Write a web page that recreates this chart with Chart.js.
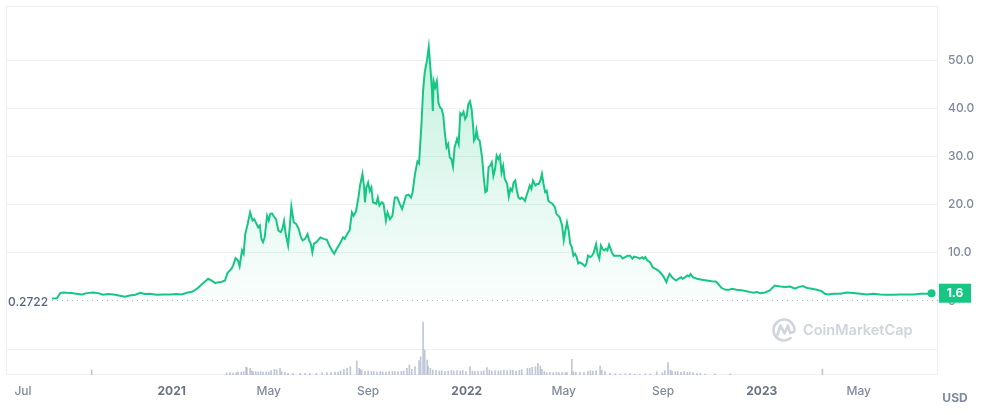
<!DOCTYPE html>
<html>
<head>
<meta charset="utf-8">
<script src="https://cdn.jsdelivr.net/npm/chart.js@4.4.1/dist/chart.umd.min.js"></script>
<style>
  html, body { margin: 0; padding: 0; background: #ffffff; }
  #wrap { position: relative; width: 983px; height: 415px; }
</style>
</head>
<body>
<div id="wrap"><canvas id="c" width="983" height="415"></canvas></div>
<script>
// ---- Data (days since 2020-07-01) ----
const priceDays = [36,42,46,50,54,60,66,73,79,87,93,99,106,114,120,126,132,139,145,151,157,165,174,182,190,196,203,209,215,221,227,229,233,238,242,246,250,253,258,260,263,266,268,271,273,275,278,281,284,286,289,291,293,295,297,299,302,304,306,308,311,313,316,319,321,323,325,328,330,332,335,338,341,344,346,349,352,354,356,358,360,363,368,372,376,379,382,385,388,392,396,398,401,404,407,409,412,415,417,420,422,423,425,427,429,431,433,437,439,441,444,446,449,451,454,457,460,463,466,469,471,474,477,480,482,485,488,490,493,495,497,500,502,504,506,507,508,510,512,514,516,518,520,522,524,526,528,530,532,534,537,539,541,543,545,547,549,551,553,555,557,558,560,561,563,565,568,570,572,574,576,578,580,582,584,586,588,590,592,594,596,599,601,603,605,607,609,611,613,615,617,619,621,623,625,627,629,631,634,636,638,640,642,644,646,648,650,652,655,658,660,664,667,669,671,673,675,677,679,681,683,685,687,689,692,695,697,699,702,704,706,709,711,713,715,717,719,721,723,725,727,729,731,735,739,742,745,748,751,754,756,759,763,766,768,770,772,776,779,782,786,790,793,796,798,800,803,805,808,811,814,816,819,822,824,826,829,834,840,846,852,857,860,864,869,873,877,883,889,895,900,904,908,912,918,924,930,937,943,949,955,959,965,970,976,982,988,992,996,1003,1011,1019,1027,1036,1044,1052,1060,1069,1077,1085,1093,1102,1110,1118,1124];
const prices = [0.5,0.55,1.62,1.76,1.69,1.62,1.49,1.35,1.62,1.76,1.62,1.28,1.42,1.28,1.07,0.87,1.14,1.28,1.69,1.42,1.49,1.28,1.35,1.35,1.42,1.35,1.69,1.9,2.5,3.4,4.3,4.6,4.25,3.7,3.9,4.0,4.25,5.8,6.7,7.4,8.9,8.4,7.2,10.5,9.8,13.9,16.0,18.4,16.7,17.0,16.0,15.3,15.7,12.9,12.2,13.2,17.7,16.7,18.1,18.2,17.4,17.0,14.6,14.3,15.0,16.6,13.9,11.5,15.3,19.6,16.3,16.0,15.0,13.2,12.6,12.9,13.9,12.6,11.9,10.1,11.9,12.2,13.2,12.9,12.7,11.5,10.6,9.8,10.8,11.9,13.2,12.9,13.9,14.6,18.4,17.7,18.6,21.5,24.0,26.4,23.6,20.5,23.6,24.6,22.9,23.6,20.5,20.2,21.5,19.8,20.5,20.2,16.7,18.4,17.0,17.7,21.5,21.5,20.2,19.1,20.2,21.9,22.1,21.5,22.6,26.4,29.0,28.6,36.8,43.7,47.5,50.2,52.8,48.5,43.7,39.5,45.7,44.4,45.7,41.2,40.2,39.9,38.5,34.7,31.9,32.6,29.8,29.5,27.9,31.9,33.7,32.6,39.0,38.6,39.3,37.8,38.5,40.9,41.5,39.9,36.1,33.3,34.0,35.5,33.7,33.3,29.8,25.7,22.6,22.9,27.8,28.1,28.8,26.0,27.4,30.2,29.5,30.2,26.7,28.1,25.4,24.3,21.7,23.3,22.9,24.6,25.0,22.9,21.5,21.2,21.5,21.2,20.8,21.9,22.9,24.0,23.3,25.0,24.0,24.3,24.3,25.0,26.4,24.3,22.6,22.9,20.8,20.5,20.2,19.5,18.1,17.4,15.7,12.6,14.6,16.3,14.6,11.9,11.2,9.4,9.8,9.1,7.8,8.0,7.7,7.2,7.7,9.4,9.1,9.4,10.0,11.8,9.7,8.8,11.5,10.8,10.5,10.8,10.5,11.7,10.8,9.9,9.4,9.4,9.4,8.8,9.1,9.4,9.4,8.8,9.2,9.1,8.8,9.1,8.8,9.1,8.5,8.0,7.0,6.7,6.3,5.6,4.9,3.9,4.9,5.6,4.9,4.6,4.25,4.6,4.9,4.6,4.9,5.3,5.1,5.6,4.9,4.6,4.4,4.25,4.1,4.05,3.56,2.73,2.3,2.3,2.5,2.3,2.2,2.0,1.83,1.7,1.83,1.62,1.76,2.18,3.2,3.0,2.87,3.0,2.53,2.87,3.07,2.66,2.53,2.32,2.03,1.49,1.35,1.49,1.49,1.76,1.62,1.49,1.35,1.49,1.35,1.28,1.28,1.35,1.35,1.35,1.49,1.49,1.6];

const volumeDays = [85,252,256,260,264,266,270,273,276,277,281,283,285,288,291,294,297,301,304,307,311,314,318,320,324,328,334,343,349,355,363,370,376,381,386,390,393,397,401,405,413,416,417,419,423,427,431,434,438,442,445,449,453,457,460,464,468,471,475,478,481,485,490,492,495,497,500,501,504,507,511,515,518,522,526,530,533,537,541,544,548,553,556,559,563,567,570,574,577,580,584,588,591,595,599,603,606,610,614,617,624,627,630,634,637,640,642,645,648,652,656,660,663,667,671,673,679,681,684,689,694,699,702,705,709,714,716,720,726,733,739,745,751,757,763,770,776,784,791,794,798,801,803,807,810,814,818,822,825,829,834,838,844,856,875,989];
const volumes = [250,100,125,100,125,150,150,175,385,365,335,215,165,175,150,175,150,160,150,215,285,250,335,165,135,85,85,85,85,85,85,115,115,135,150,150,200,285,335,415,700,335,285,250,200,200,175,175,150,175,160,150,165,185,175,165,185,200,335,500,285,415,715,915,2650,1250,750,450,335,250,235,200,215,185,200,235,200,215,200,225,175,415,200,185,200,175,215,365,250,200,225,200,215,250,215,250,235,200,225,275,335,335,385,415,585,450,285,165,125,135,115,135,125,135,125,115,785,165,135,135,115,175,215,200,215,450,250,165,85,65,50,50,65,50,50,65,50,165,115,215,615,250,200,165,185,135,165,135,150,115,85,85,50,50,50,300];

const xTickDays = [0,184,304,427,549,669,792,914,1034];
const xTickLabels = ['Jul','2021','May','Sep','2022','May','Sep','2023','May'];
const yTickValues = [0,10,20,30,40,50];
const yTickLabels = ['0','10.0','20.0','30.0','40.0','50.0'];
const minPrice = 0.2722;
const minPriceLabel = '0.2722';
const lastPriceLabel = '1.6';
const currencyLabel = 'USD';
const watermarkText = 'CoinMarketCap';

// ---- Styling ----
const GREEN = '#16c784';
const GRID = '#eff2f5';
const FONT = 'Inter, "Noto Sans", sans-serif';

const extras = {
  id: 'extras',
  beforeDatasetsDraw(chart) {
    const {ctx, chartArea: a} = chart;
    ctx.save();
    // frame
    ctx.strokeStyle = '#eceff3';
    ctx.lineWidth = 1;
    ctx.strokeRect(Math.round(a.left) + 0.5, Math.round(a.top) + 0.5,
                   Math.round(a.right - a.left) - 1, Math.round(a.bottom - a.top) - 1);
    // watermark
    const wx = a.right - 154, wy = a.bottom - 45;
    ctx.strokeStyle = '#cfd4dd';
    ctx.lineWidth = 2.6;
    ctx.lineCap = 'round';
    ctx.lineJoin = 'round';
    ctx.beginPath();
    ctx.arc(wx, wy, 10.5, 0.28 * Math.PI, 1.98 * Math.PI);
    ctx.stroke();
    ctx.beginPath();
    ctx.moveTo(wx - 6.5, wy + 4.5);
    ctx.lineTo(wx - 3.5, wy - 4.5);
    ctx.lineTo(wx + 0.5, wy + 3.5);
    ctx.lineTo(wx + 4, wy - 4.5);
    ctx.lineTo(wx + 6, wy + 3);
    ctx.lineTo(wx + 10.5, wy + 1.5);
    ctx.stroke();
    ctx.fillStyle = '#cfd4dd';
    ctx.font = '600 14.5px ' + FONT;
    ctx.textAlign = 'left';
    ctx.textBaseline = 'middle';
    ctx.fillText(watermarkText, wx + 19, wy + 1);
    ctx.restore();
  },
  afterDatasetsDraw(chart) {
    const {ctx, chartArea: a, scales} = chart;
    const xs = scales.x, ys = scales.y;
    ctx.save();
    // min price dotted line
    const my = Math.round(ys.getPixelForValue(minPrice)) + 0.5;
    const sx = xs.getPixelForValue(priceDays[0]);
    ctx.strokeStyle = '#a7b1c2';
    ctx.lineWidth = 1;
    ctx.setLineDash([1, 4]);
    ctx.beginPath();
    ctx.moveTo(sx, my);
    ctx.lineTo(a.right, my);
    ctx.stroke();
    ctx.setLineDash([]);
    ctx.fillStyle = '#58667e';
    ctx.font = '500 12px ' + FONT;
    ctx.textAlign = 'right';
    ctx.textBaseline = 'middle';
    ctx.fillText(minPriceLabel, sx - 4, my + 1.5);
    // last price badge
    const lastY = ys.getPixelForValue(prices[prices.length - 1]);
    const lastX = xs.getPixelForValue(priceDays[priceDays.length - 1]);
    ctx.fillStyle = GREEN;
    ctx.beginPath();
    ctx.arc(lastX, lastY, 4, 0, Math.PI * 2);
    ctx.fill();
    ctx.fillRect(a.right + 1, lastY - 9.5, 32, 19);
    ctx.fillStyle = '#ffffff';
    ctx.font = '700 12px ' + FONT;
    ctx.textAlign = 'center';
    ctx.fillText(lastPriceLabel, a.right + 17, lastY + 0.5);
    // currency
    ctx.fillStyle = '#808a9d';
    ctx.font = '700 12px ' + FONT;
    ctx.textAlign = 'center';
    ctx.fillText(currencyLabel, a.right + 17, a.bottom + 23);
    ctx.restore();
  }
};

const ctx = document.getElementById('c').getContext('2d');
const grad = ctx.createLinearGradient(0, 40, 0, 301);
grad.addColorStop(0, 'rgba(22,199,132,0.26)');
grad.addColorStop(1, 'rgba(22,199,132,0.02)');

new Chart(ctx, {
  type: 'line',
  data: {
    datasets: [
      {
        type: 'line',
        data: priceDays.map((d, i) => ({x: d, y: prices[i]})),
        yAxisID: 'y',
        borderColor: GREEN,
        borderWidth: 2,
        pointRadius: 0,
        tension: 0,
        fill: {value: minPrice},
        backgroundColor: grad,
        order: 1
      },
      {
        type: 'bar',
        data: volumeDays.map((d, i) => ({x: d, y: volumes[i]})),
        yAxisID: 'y2',
        backgroundColor: 'rgba(170,180,200,0.75)',
        barThickness: 1,
        order: 2
      }
    ]
  },
  options: {
    responsive: false,
    animation: false,
    layout: {padding: {left: 6, top: 6, right: 0, bottom: 0}},
    plugins: {legend: {display: false}, tooltip: {enabled: false}},
    scales: {
      x: {
        type: 'linear',
        offset: false,
        min: -21,
        max: 1132,
        grid: {display: false, drawTicks: false, offset: false},
        border: {display: false},
        afterBuildTicks: s => { s.ticks = xTickDays.map(v => ({value: v})); },
        afterFit: s => { s.height = 40; s.paddingLeft = 0; s.paddingRight = 0; },
        ticks: {
          padding: 9,
          maxRotation: 0,
          autoSkip: false,
          callback: v => { const i = xTickDays.indexOf(v); return i >= 0 ? xTickLabels[i] : ''; },
          color: c => /^\d{4}$/.test(xTickLabels[c.index] || '') ? '#6b7385' : '#808a9d',
          font: c => ({family: FONT, size: 12, weight: /^\d{4}$/.test(xTickLabels[c.index] || '') ? '700' : '500'})
        }
      },
      y: {
        type: 'linear',
        position: 'right',
        min: -15.4,
        max: 61.3,
        grid: {color: c => (c.tick && c.tick.value === 0) ? 'rgba(0,0,0,0)' : GRID, drawTicks: false},
        border: {display: false},
        afterBuildTicks: s => { s.ticks = yTickValues.map(v => ({value: v})); },
        afterFit: s => { s.width = 45; s.paddingTop = 0; s.paddingBottom = 0; },
        ticks: {
          padding: 10,
          callback: v => { const i = yTickValues.indexOf(v); return i >= 0 ? yTickLabels[i] : ''; },
          color: '#808a9d',
          font: {family: FONT, size: 12, weight: '500'}
        }
      },
      y2: {
        type: 'linear',
        position: 'right',
        min: 0,
        max: 18450,
        grid: {color: GRID, drawTicks: false},
        border: {display: false},
        afterBuildTicks: s => { s.ticks = [{value: 1300}]; },
        afterFit: s => { s.width = 0; s.paddingTop = 0; s.paddingBottom = 0; },
        ticks: {display: false}
      }
    }
  },
  plugins: [extras]
});
</script>
</body>
</html>
